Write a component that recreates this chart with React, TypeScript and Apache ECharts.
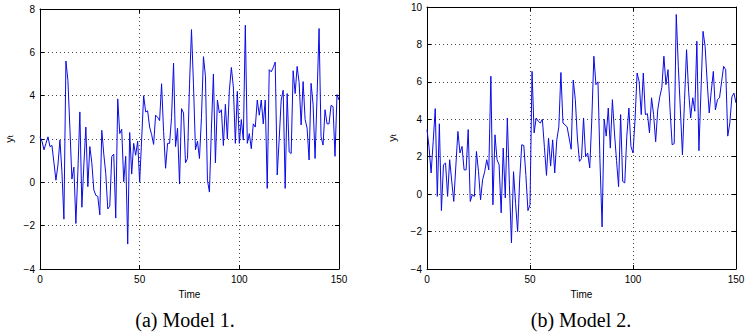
import React, { useEffect, useRef } from "react";
import * as echarts from "echarts";

// Simulated series y_t for t = 0..150
const model1Values: number[] = [
  2.1, 1.9, 1.5, 1.8, 2.1, 1.65, 1.7, 0.9, 0.1, 0.8,
  1.95, 0.5, -1.7, 5.6, 4.7, 2.5, 0.15, 0.7, -1.9, 0.5,
  3.25, -1.15, 0.8, 2.55, -0.2, 1.65, 0.9, -0.35, -0.6, -0.65,
  -1.5, 2.4, 1.3, 0.4, -1.23, -1.1, 1.2, 1.3, -1.65, 3.85,
  2.25, 2.45, 0.03, 1.2, -2.85, 2.3, 0.38, 1.8, 1.25, 1.9,
  0.0, 2.0, 4.0, 3.25, 3.3, 2.55, 2.2, 1.75, 3.1, 3.0,
  2.85, 4.55, 2.35, 0.65, 1.8, 1.8, 3.0, 5.5, 1.65, 2.5,
  -0.08, 3.4, 3.2, 0.9, 1.1, 4.5, 7.05, 4.5, 1.5, 1.9,
  1.1, 3.0, 5.8, 4.9, 0.1, -0.45, 2.5, 5.0, 0.9, 3.8,
  3.2, 3.35, 1.7, 3.6, 2.0, 4.25, 5.3, 4.4, 1.8, 4.2,
  1.8, 2.9, 1.95, 7.25, 1.8, 2.25, 1.55, 2.7, 2.55, 3.8,
  3.1, 3.8, 2.7, 3.8, -0.28, 5.2, 5.1, 5.3, 5.55, 0.34,
  2.0, 3.8, 4.25, -0.28, 4.1, 1.4, 1.33, 5.15, 4.1, 5.35,
  4.6, 2.65, 4.65, 2.9, 2.5, 1.03, 4.57, 3.6, 1.1, 4.0,
  7.1, 2.1, 1.72, 3.35, 2.7, 2.7, 3.55, 3.5, 1.2, 4.05,
  3.8,
];

const model2Values: number[] = [
  3.45, 2.5, 1.13, 2.8, 4.57, -0.12, 3.76, -0.88, 1.57, 1.66,
  -0.12, 1.84, 0.7, -0.39, 1.5, 3.35, 2.2, 2.55, 1.3, 1.3,
  3.45, -0.39, -0.03, -0.12, 2.28, 1.2, -0.3, 0.77, 1.2, 1.84,
  1.3, 6.3, -0.57, 3.17, 1.84, 1.57, -1.0, 2.46, -0.2, 4.07,
  0.5, -2.6, 1.2, -0.5, -2.0, 0.8, 2.64, 2.6, 1.0, -0.88,
  -0.57, 6.56, 3.27, 4.07, 3.9, 3.8, 4.0, 2.5, 1.0, 3.0,
  1.5, 2.9, 1.13, 2.9, 3.6, 6.5, 3.8, 3.7, 3.6, 3.0,
  2.4, 6.1, 5.05, 3.0, 1.75, 1.9, 4.07, 2.0, 2.2, 1.4,
  4.0, 7.37, 5.85, 6.0, 1.66, -1.75, 4.0, 3.1, 4.6, 2.46,
  5.05, 3.27, 1.8, 0.4, 4.25, 0.68, 0.6, 3.1, 4.6, 2.55,
  2.2, 4.0, 6.47, 6.0, 4.25, 6.47, 4.25, 4.3, 3.27, 5.15,
  4.25, 2.8, 4.5, 5.2, 5.7, 7.37, 5.85, 6.65, 4.5, 2.64,
  2.7, 9.6, 6.83, 4.5, 2.1, 5.0, 7.72, 5.5, 4.07, 5.15,
  4.43, 8.17, 2.32, 5.5, 8.7, 7.9, 6.0, 4.34, 5.5, 6.56,
  4.5, 5.05, 5.15, 6.0, 6.83, 6.65, 3.1, 3.8, 5.2, 5.4,
  4.87,
];

const xTicks = { min: 0, max: 150, interval: 50 };
const yTicks1 = { min: -4, max: 8, interval: 2 };
const yTicks2 = { min: -4, max: 10, interval: 2 };
const xAxisTitle = "Time";
const captions = ["(a) Model 1.", "(b) Model 2."];

const sansFont = "'Liberation Sans', Arial, sans-serif";
const serifFont = "'Liberation Serif', 'DejaVu Serif', serif";

const toPairs = (vals: number[]) => vals.map((v, i) => [i, v]);
const minusFmt = (v: number) => String(v).replace("-", "\u2212");

export default function App() {
  const ref = useRef<HTMLDivElement>(null);

  useEffect(() => {
    document.body.style.margin = "0";
    if (!ref.current) return;
    const chart = echarts.init(ref.current, null, { renderer: "svg" });

    const grids = [
      { left: 31, top: 9, width: 308, height: 260 },
      { left: 427, top: 7, width: 309, height: 262 },
    ];
    const yRanges = [yTicks1, yTicks2];

    const axisLine = { show: true, onZero: false, lineStyle: { color: "#000", width: 1 } };
    const tick = { show: true, inside: true, length: 4, lineStyle: { color: "#000" } };
    const dotted = { show: true, lineStyle: { color: "#444", type: [1, 3] as any, width: 1 } };
    const label = { color: "#000", fontSize: 10, fontFamily: sansFont };

    const xAxis: any[] = [];
    const yAxis: any[] = [];
    grids.forEach((_, g) => {
      xAxis.push({
        type: "value", gridIndex: g, position: "bottom", ...xTicks,
        axisLine, axisTick: tick, splitLine: dotted,
        axisLabel: { ...label, margin: 5 },
        name: xAxisTitle, nameLocation: "middle", nameGap: 20,
        nameTextStyle: { color: "#000", fontSize: 10, fontFamily: sansFont },
      });
      xAxis.push({
        type: "value", gridIndex: g, position: "top", ...xTicks,
        axisLine, axisTick: tick, splitLine: { show: false }, axisLabel: { show: false },
      });
      yAxis.push({
        type: "value", gridIndex: g, position: "left", ...yRanges[g],
        axisLine, axisTick: tick, splitLine: dotted,
        axisLabel: { ...label, margin: 5, formatter: minusFmt },
        name: "{y|y}{t|t}", nameLocation: "middle", nameGap: g === 0 ? 26 : 30,
        nameTextStyle: {
          color: "#000", fontFamily: sansFont,
          rich: {
            y: { fontSize: 11, fontFamily: sansFont, color: "#000" },
            t: { fontSize: 7, fontFamily: sansFont, color: "#000", verticalAlign: "bottom", lineHeight: 8, padding: [6, 0, 0, 0] },
          },
        },
      });
      yAxis.push({
        type: "value", gridIndex: g, position: "right", ...yRanges[g],
        axisLine, axisTick: tick, splitLine: { show: false }, axisLabel: { show: false },
      });
    });

    chart.setOption({
      animation: false,
      backgroundColor: "#fff",
      grid: grids,
      xAxis,
      yAxis,
      series: [model1Values, model2Values].map((vals, g) => ({
        type: "line",
        xAxisIndex: g * 2,
        yAxisIndex: g * 2,
        data: toPairs(vals),
        showSymbol: false,
        symbol: "none",
        lineStyle: { color: "#0a0ae6", width: 1 },
        z: 3,
      })),
      graphic: [
        { type: "text", x: 185, y: 320, style: { text: captions[0], font: `20px ${serifFont}`, fill: "#000", align: "center", verticalAlign: "middle" } },
        { type: "text", x: 581, y: 320, style: { text: captions[1], font: `20px ${serifFont}`, fill: "#000", align: "center", verticalAlign: "middle" } },
      ],
    });

    return () => chart.dispose();
  }, []);

  return <div ref={ref} style={{ width: 754, height: 336 }} />;
}
